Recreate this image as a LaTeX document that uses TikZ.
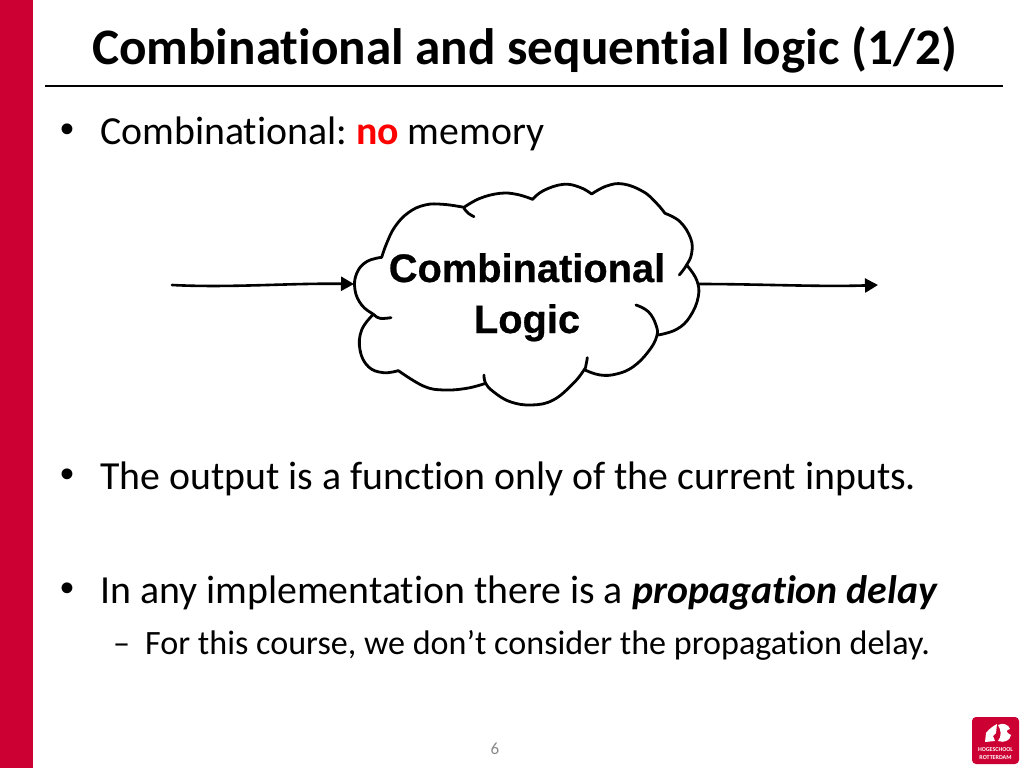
\documentclass[tikz,border=0pt]{standalone}
\usepackage{fontspec}
\setmainfont[Ligatures=NoCommon]{Carlito}
\newfontfamily\cloudfont[BoldFeatures={FakeBold=0.6}]{Liberation Sans}
\newfontfamily\bulletfont{Liberation Sans}
\usetikzlibrary{arrows.meta}
\definecolor{hrred}{HTML}{CC0033}
\definecolor{pagegray}{HTML}{898989}
\tikzset{
  x=1pt,y=-1pt,
  bodytext/.style={anchor=base west,inner sep=0pt,font=\fontsize{39.8}{40}\selectfont},
  bullettext/.style={anchor=base west,inner sep=0pt,font=\bulletfont\fontsize{39.8}{40}\selectfont},
  subtext/.style={anchor=base west,inner sep=0pt,font=\fontsize{34.1}{34}\selectfont},
  cloudline/.style={line width=2.8pt,line cap=round,line join=round},
  conn/.style={line width=2.6pt,line cap=round,-{Triangle[length=13pt,width=14pt]}},
  lobe/.style={cloudline,smooth,tension=0.7},
  cloudtext/.style={anchor=base,inner sep=0pt,font=\cloudfont\bfseries\fontsize{39.8}{40}\selectfont}
}
\begin{document}
\begin{tikzpicture}
\useasboundingbox (0,0) rectangle (1024,768);
\fill[white] (0,0) rectangle (1024,768);
\fill[hrred] (0,0) rectangle (33,768);
\node[anchor=base west,inner sep=0pt,font=\fontsize{51.2}{52}\selectfont\bfseries] (title) at (92,64) {Combinational and sequential logic (1/2)};
\draw[line width=2.2pt] (45,86) -- (1003,86);
\node[bullettext] (b1) at (60,142) {•};
\node[bodytext] (t1) at (100,144) {Combinational:\kern-3pt{} \textcolor{red}{\textbf{no}} memory};
\node[bullettext] (b2) at (60,487) {•};
\node[bodytext] (t2) at (100,489) {The output is a function only of the current inputs.};
\node[bullettext] (b3) at (60,601) {•};
\node[bodytext] (t3) at (100,603) {In any implementation there is a \textbf{\textit{propagation delay}}};
\node[subtext] (d1) at (113,654) {–};
\node[subtext] (t4) at (145,654) {For this course, we don’t consider the propagation delay.};
\node[text=pagegray,inner sep=0pt,font=\fontsize{17}{17}\selectfont] (page) at (495,749) {6};
% cloud
\begin{scope}[shift={(340,170)},x=0.3333pt,y=-0.3333pt]
\draw[lobe] plot coordinates {(125,262)(140,220)(165,170)(205,128)(255,105)(310,103)(372,112)};
\draw[lobe] plot coordinates {(372,115)(385,130)(402,140)};
\draw[lobe] plot coordinates {(372,112)(420,85)(480,70)(530,73)(578,88)};
\draw[lobe] plot coordinates {(578,88)(610,62)(670,43)(720,52)(755,72)};
\draw[lobe] plot coordinates {(755,72)(800,48)(850,42)(910,65)(950,100)(975,130)};
\draw[lobe] plot coordinates {(975,130)(1020,155)(1052,205)(1055,250)(1040,285)(1018,315)};
\draw[lobe] plot coordinates {(1040,285)(1070,330)(1075,380)(1050,440)(1010,478)(955,495)};
\draw[lobe] plot coordinates {(888,405)(925,425)(948,465)(950,500)(925,545)(880,590)(830,612)(780,615)(735,600)};
\draw[lobe] plot coordinates {(742,563)(738,585)(732,600)(700,640)(640,690)(575,705)(510,695)(460,665)(437,640)(432,615)};
\draw[lobe] plot coordinates {(437,640)(380,655)(310,660)(250,648)(175,602)};
\draw[lobe] plot coordinates {(175,602)(130,608)(85,590)(60,540)(65,480)(100,433)};
\draw[lobe] plot coordinates {(153,443)(120,445)(100,433)(65,405)(45,360)(50,310)(80,275)(125,262)};
\end{scope}
\node[cloudtext] (logic1) at (527,282) {Combinational};
\node[cloudtext] (logic2) at (527,333) {Logic};
\coordinate (inS) at (172,285);
\coordinate (inE) at (354,284);
\coordinate (outS) at (698,284);
\coordinate (outE) at (878,285);
\draw[conn] (inS) .. controls (230,288) and (290,283) .. (inE);
\draw[conn] (outS) .. controls (760,284) and (820,287) .. (outE);
% logo
\fill[hrred,rounded corners=4pt] (972,717) rectangle (1019,764);
\fill[white] (985,742) -- (986,733) .. controls (989,729) and (993,726) .. (997,724) -- (996,733) -- (993,736) -- (995,741) -- cycle;
\fill[white] (998,725) .. controls (1003,722) and (1009,725) .. (1010,729) .. controls (1006,730) and (1005,732) .. (1011,735) .. controls (1010,741) and (1004,743) .. (998,741) .. controls (1002,736) and (1001,730) .. (998,725) -- cycle;
\node[white,inner sep=0pt,align=center,font=\bfseries\fontsize{6}{7.6}\selectfont] (logo) at (995.5,753.5) {HOGESCHOOL\\ROTTERDAM};
\end{tikzpicture}
\end{document}
